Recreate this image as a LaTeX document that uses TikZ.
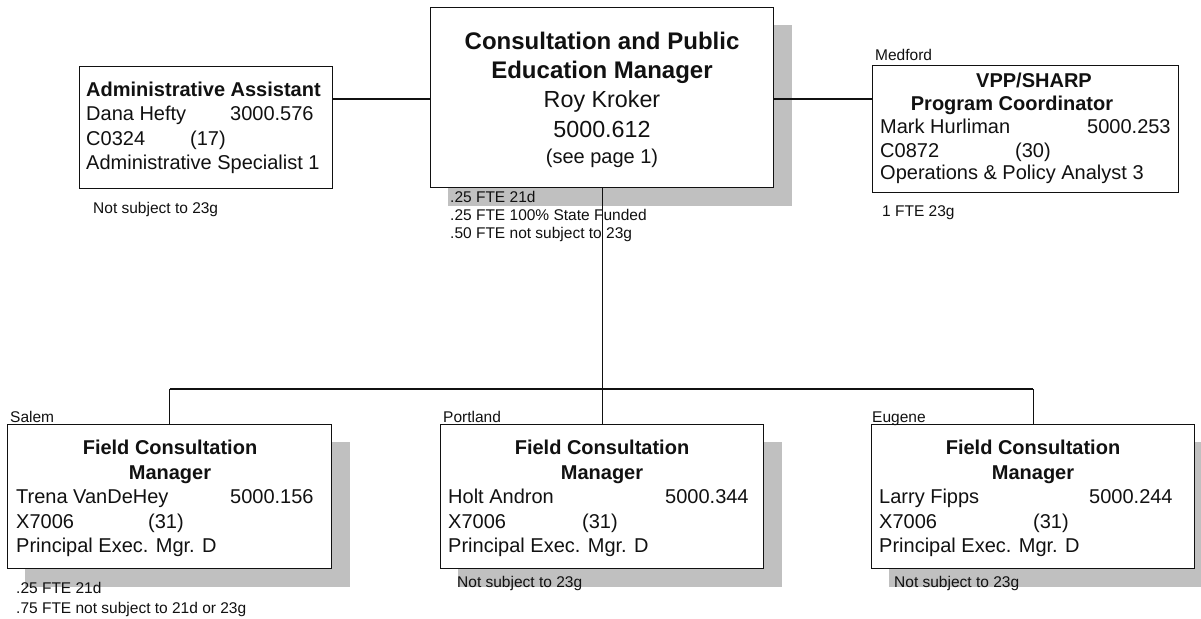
\documentclass[tikz,border=0pt]{standalone}
\usepackage{fontspec}
\setmainfont{Liberation Sans}
\usetikzlibrary{backgrounds,calc}
\definecolor{shadowgray}{HTML}{C0C0C0}
\definecolor{ink}{HTML}{111111}

\tikzset{
  box/.style={draw=ink, line width=1.2pt, fill=white, inner sep=0pt, anchor=north west},
  txt/.style={inner sep=0pt, anchor=base west, text=ink, font=\fontsize{20}{24}\selectfont},
  ttl/.style={inner sep=0pt, anchor=base, text=ink, font=\fontsize{20}{24}\selectfont\bfseries},
  bigttl/.style={inner sep=0pt, anchor=base, text=ink, font=\fontsize{24}{28}\selectfont\bfseries},
  bigtxt/.style={inner sep=0pt, anchor=base, text=ink, font=\fontsize{23.3}{28}\selectfont},
  note/.style={inner sep=0pt, anchor=base west, text=ink, font=\fontsize{15.5}{18}\selectfont},
  link/.style={draw=ink, line width=1.1pt},
}

\begin{document}
\begin{tikzpicture}[x=1pt, y=-1pt]
\useasboundingbox (0,0) rectangle (1201,618);

% position boxes
\node[box, minimum width=253pt, minimum height=122pt] (admin)  at (79,66)  {};
\node[box, minimum width=343pt, minimum height=180pt] (center) at (430,7)  {};
\node[box, minimum width=306pt, minimum height=127pt] (vpp)    at (872,65) {};
\node[box, minimum width=324pt, minimum height=144pt] (salem)  at (7,424)  {};
\node[box, minimum width=323pt, minimum height=144pt] (portland) at (440,424) {};
\node[box, minimum width=323pt, minimum height=144pt] (eugene) at (871,424) {};

% page and drop shadows
\begin{scope}[on background layer]
  \fill[white] (0,0) rectangle (1201,618);
  \foreach \b in {center,salem,portland,eugene}
    \fill[shadowgray] ($(\b.north west)+(18,18)$) rectangle ($(\b.south east)+(18,18)$);
\end{scope}

% Administrative Assistant
\node[txt, font=\fontsize{20}{24}\selectfont\bfseries] (a1) at (86,96) {Administrative Assistant};
\node[txt] (a2) at (86,120) {Dana Hefty};
\node[txt] (a2n) at (230,120) {3000.576};
\node[txt] (a3) at (86,145) {C0324};
\node[txt] (a3r) at (190,145) {(17)};
\node[txt] (a4) at (86,169) {Administrative Specialist 1};
\node[note] (an) at (93,213) {Not subject to 23g};

% Consultation and Public Education Manager
\node[bigttl] (c1) at (602,50) {Consultation and Public};
\node[bigttl] (c2) at (602,78) {Education Manager};
\node[bigtxt] (c3) at (602,107) {Roy Kroker};
\node[bigtxt] (c4) at (602,137) {5000.612};
\node[ttl, font=\fontsize{20}{24}\selectfont] (c5) at (602,163) {(see page 1)};
\node[note] (cn1) at (450,202) {.25 FTE 21d};
\node[note] (cn2) at (450,220) {.25 FTE 100\% State Funded};
\node[note] (cn3) at (450,238) {.50 FTE not subject to 23g};

% VPP/SHARP Program Coordinator
\node[note] (vloc) at (875,60) {Medford};
\node[ttl] (v1) at (1034,87) {VPP/SHARP};
\node[ttl] (v2) at (1012,110) {Program Coordinator};
\node[txt] (v3) at (880,133) {Mark Hurliman};
\node[txt] (v3n) at (1087,133) {5000.253};
\node[txt] (v4) at (880,157) {C0872};
\node[txt] (v4r) at (1015,157) {(30)};
\node[txt] (v5) at (880,179) {Operations \& Policy Analyst 3};
\node[note] (vn) at (882,216) {1 FTE 23g};

% Field Consultation Managers
\node[note] (sloc) at (10,422) {Salem};
\node[ttl] (s1) at (170,454) {Field Consultation};
\node[ttl] (s2) at (170,479) {Manager};
\node[txt] (s3) at (16,503) {Trena VanDeHey};
\node[txt] (s3n) at (230,503) {5000.156};
\node[txt] (s4) at (16,528) {X7006};
\node[txt] (s4r) at (148,528) {(31)};
\node[txt] (s5) at (16,552) {Principal Exec. Mgr. D};
\node[note] (sn1) at (16,593) {.25 FTE 21d};
\node[note] (sn2) at (16,613) {.75 FTE not subject to 21d or 23g};

\node[note] (ploc) at (443,422) {Portland};
\node[ttl] (p1) at (602,454) {Field Consultation};
\node[ttl] (p2) at (602,479) {Manager};
\node[txt] (p3) at (448,503) {Holt Andron};
\node[txt] (p3n) at (665,503) {5000.344};
\node[txt] (p4) at (448,528) {X7006};
\node[txt] (p4r) at (582,528) {(31)};
\node[txt] (p5) at (448,552) {Principal Exec. Mgr. D};
\node[note] (pn) at (457,587) {Not subject to 23g};

\node[note] (eloc) at (872,422) {Eugene};
\node[ttl] (e1) at (1033,454) {Field Consultation};
\node[ttl] (e2) at (1033,479) {Manager};
\node[txt] (e3) at (879,503) {Larry Fipps};
\node[txt] (e3n) at (1089,503) {5000.244};
\node[txt] (e4) at (879,528) {X7006};
\node[txt] (e4r) at (1033,528) {(31)};
\node[txt] (e5) at (879,552) {Principal Exec. Mgr. D};
\node[note] (en) at (894,587) {Not subject to 23g};

% reporting lines
\coordinate (topline) at (0,99);
\coordinate (bus) at (0,389);
\draw[link] (admin.east |- topline) -- (center.west |- topline);
\draw[link] (center.east |- topline) -- (vpp.west |- topline);
\draw[link] (center.south) -- (center.south |- bus);
\draw[link] (salem.north |- bus) -- (eugene.north |- bus);
\draw[link] (salem.north |- bus) -- (salem.north);
\draw[link] (portland.north |- bus) -- (portland.north);
\draw[link] (eugene.north |- bus) -- (eugene.north);
\end{tikzpicture}
\end{document}
